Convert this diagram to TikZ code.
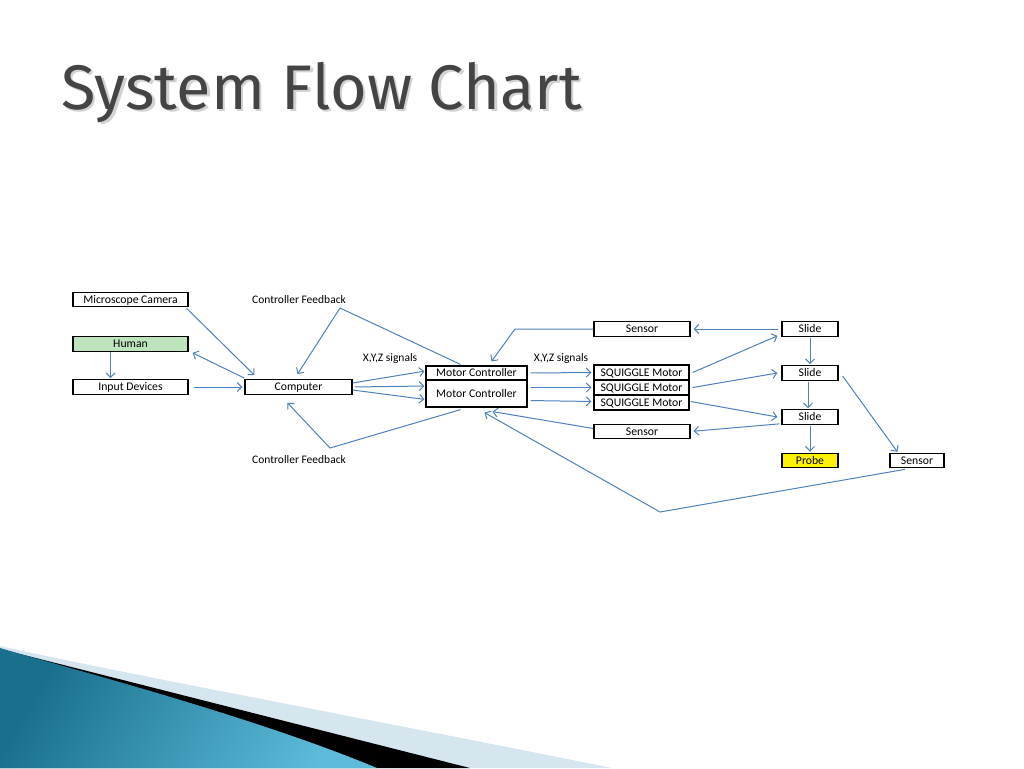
\documentclass[tikz,border=0pt]{standalone}
\usepackage{fontspec}
\setmainfont{Carlito}
\newfontfamily\titlefont{Fira Sans}
\usetikzlibrary{arrows.meta}
\definecolor{arrblue}{RGB}{79,129,189}
\definecolor{humgreen}{RGB}{190,228,190}
\definecolor{tealA}{RGB}{25,112,142}
\definecolor{tealB}{RGB}{92,188,218}
\definecolor{lightband}{RGB}{214,230,238}
\definecolor{titlegray}{RGB}{68,68,68}
\tikzset{
  box/.style={draw=black, line width=1.2pt, minimum height=14.5pt, inner sep=0pt, text height=7.5pt, text depth=0pt, font=\fontsize{11.7}{12}\selectfont},
  lbl/.style={inner sep=0pt, text height=7.5pt, text depth=0pt, font=\fontsize{11.5}{12}\selectfont},
  arr/.style={draw=arrblue, line width=1pt, -{Straight Barb[length=4.5pt,width=9pt]}},
}
\begin{document}
\begin{tikzpicture}[x=1pt,y=-1pt]
\useasboundingbox (0,0) rectangle (1024,768);
\fill[white] (0,0) rectangle (1024,768);
% bottom decoration
\fill[lightband] (0,646) .. controls (120,673) and (400,725) .. (612,768) -- (0,768) -- cycle;
\fill[black] (0,649) .. controls (80,669) and (300,725) .. (470,768) -- (0,768) -- cycle;
\shade[left color=tealA, right color=tealB, shading angle=60] (0,648) .. controls (60,666) and (250,715) .. (377,768) -- (0,768) -- cycle;
% title
\node[anchor=base west, inner sep=0pt, text=gray!35, font=\titlefont\fontsize{63}{63}\selectfont] (titleshadow) at (63.5,111.5) {System Flow Chart};
\node[anchor=base west, inner sep=0pt, text=titlegray, font=\titlefont\fontsize{63}{63}\selectfont] (title) at (61,109.5) {System Flow Chart};
% nodes
\node[box, minimum width=115pt] (cam) at (130.5,299.5) {Microscope Camera};
\node[box, minimum width=115pt, fill=humgreen] (hum) at (130.5,344) {Human};
\node[box, minimum width=115pt] (inp) at (130.5,387) {Input Devices};
\node[box, minimum width=107pt] (comp) at (298.5,387) {Computer};
\node[lbl] (fbtop) at (299,300) {Controller Feedback};
\node[lbl] (fbbot) at (299,460) {Controller Feedback};
\node[lbl] (xyz1) at (390,358) {X,Y,Z signals};
\node[lbl] (xyz2) at (561,358) {X,Y,Z signals};
\node[box, minimum width=101pt, minimum height=14pt] (mc1) at (476.5,373) {Motor Controller};
\node[box, minimum width=101pt, minimum height=27pt] (mc2) at (476.5,393.5) {Motor Controller};
\draw[line width=1.7pt] (426,366) rectangle (527,407);
\node[box, minimum width=96pt] (sensT) at (642,329) {Sensor};
\node[box, minimum width=95pt, minimum height=15pt] (sq1) at (641.5,372.5) {SQUIGGLE Motor};
\node[box, minimum width=95pt, minimum height=15pt] (sq2) at (641.5,387.5) {SQUIGGLE Motor};
\node[box, minimum width=95pt, minimum height=15pt] (sq3) at (641.5,402.5) {SQUIGGLE Motor};
\node[box, minimum width=96pt] (sensB) at (642,431.5) {Sensor};
\node[box, minimum width=56pt] (sl1) at (810,329) {Slide};
\node[box, minimum width=56pt] (sl2) at (810,373) {Slide};
\node[box, minimum width=56pt] (sl3) at (810,417) {Slide};
\node[box, minimum width=56pt, fill=yellow] (probe) at (810,460.5) {Probe};
\node[box, minimum width=54pt] (sensR) at (917,460.5) {Sensor};
% bend points
\coordinate (fbt) at (340,308);
\coordinate (fbb) at (330,448);
\coordinate (sbend) at (515,329);
\coordinate (lowv) at (660,512);
% connectors
\draw[arr] ([xshift=-2pt,yshift=-1pt]cam.south east) -- ([xshift=10pt,yshift=4pt]comp.north west);
\draw[arr] ([yshift=1pt]comp.north west) -- ([xshift=4pt,yshift=-1pt]hum.south east);
\draw[arr, shorten >=1pt] ([xshift=-20pt]hum.south) -- ([xshift=-20pt]inp.north);
\draw[arr, shorten <=5pt, shorten >=2pt] (inp.east) -- (comp.west);
\draw[arr] ([xshift=-16pt,yshift=1pt]mc1.north) -- (fbt) -- ([xshift=-1pt,yshift=5pt]comp.north);
\draw[arr] ([xshift=-16pt,yshift=-2pt]mc2.south) -- (fbb) -- ([xshift=-11pt,yshift=-8pt]comp.south);
\draw[arr, shorten >=1pt] ([yshift=4pt]comp.east) -- ([yshift=2pt]mc1.west);
\draw[arr, shorten <=2pt, shorten >=1pt] (comp.east) -- ([yshift=7.5pt]mc2.west);
\draw[arr, shorten >=1pt] ([yshift=-3pt]comp.east) -- ([yshift=-6pt]mc2.west);
\draw[arr, shorten <=3pt, shorten >=2pt] (mc1.east) -- (sq1.west);
\draw[arr, shorten <=3pt, shorten >=2pt] ([yshift=6pt]mc2.east) -- (sq2.west);
\draw[arr, shorten <=3pt, shorten >=2pt] ([yshift=-7pt]mc2.east) -- ([yshift=1pt]sq3.west);
\draw[arr] (sensT.west) -- (sbend) -- ([xshift=15pt,yshift=4pt]mc1.north);
\draw[arr] ([yshift=3pt]sensB.west) -- ([xshift=16pt,yshift=-4pt]mc2.south);
\draw[arr] ([xshift=-12pt,yshift=-1pt]sensR.south) -- (lowv) -- ([xshift=8pt,yshift=-5pt]mc2.south);
\draw[arr] ([xshift=3pt]sq1.east) -- ([xshift=-4pt,yshift=1pt]sl1.south west);
\draw[arr, shorten <=3pt, shorten >=3pt] (sl1.west) -- (sensT.east);
\draw[arr, shorten <=1pt, shorten >=1pt] (sl1.south) -- (sl2.north);
\draw[arr] ([xshift=3pt]sq2.east) -- ([xshift=-4pt]sl2.west);
\draw[arr, shorten <=1pt, shorten >=1pt] ([xshift=-2pt]sl2.south) -- ([xshift=-2pt]sl3.north);
\draw[arr] ([xshift=1pt,yshift=1pt]sq3.east) -- ([xshift=-4pt]sl3.west);
\draw[arr, shorten >=3pt] ([xshift=-2pt,yshift=1pt]sl3.south west) -- (sensB.east);
\draw[arr, shorten <=1pt, shorten >=1pt] (sl3.south) -- (probe.north);
\draw[arr, shorten >=1pt] ([xshift=4pt,yshift=-3pt]sl2.east) -- ([xshift=-19pt]sensR.north);
\end{tikzpicture}
\end{document}
